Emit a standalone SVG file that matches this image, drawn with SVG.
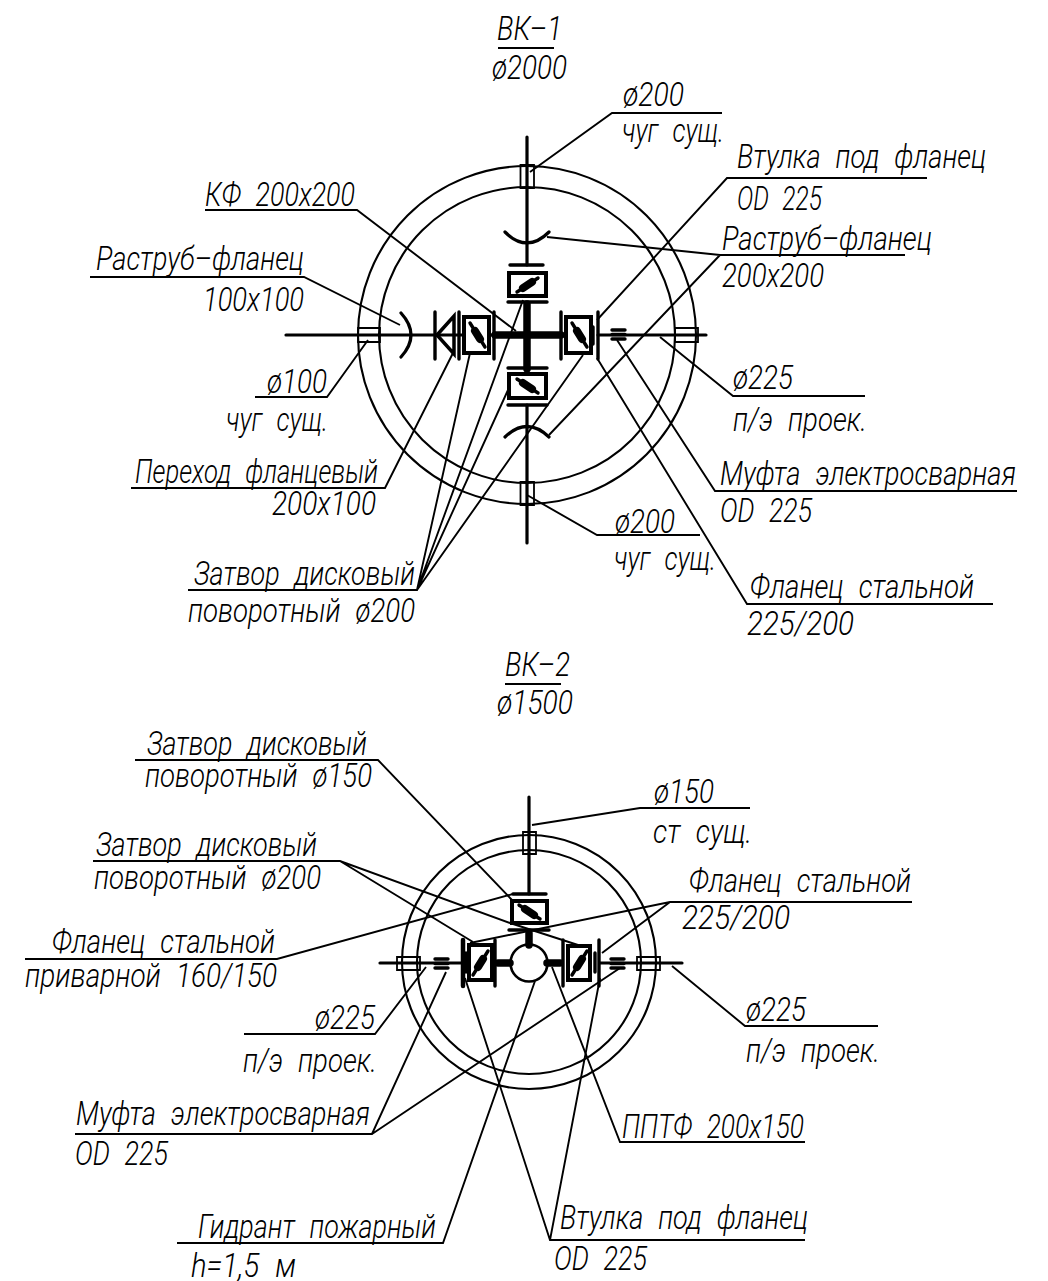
<svg xmlns="http://www.w3.org/2000/svg" width="1048" height="1281" viewBox="0 0 1048 1281">
<style>
.bg{fill:#fff}
text{font-family:"Roboto","Liberation Sans",sans-serif;font-style:italic;font-weight:300;font-size:33px;fill:#000;word-spacing:10px}
.l{fill:none;stroke:#000;stroke-width:1.9;stroke-linecap:butt}
.c{fill:none;stroke:#000;stroke-width:2.100}
.s{fill:none;stroke:#000;stroke-width:1.800}
.p{fill:none;stroke:#000;stroke-width:3.200;stroke-linecap:round}
.t{fill:none;stroke:#000;stroke-width:7.500;stroke-linecap:round}
.f{fill:none;stroke:#000;stroke-width:3.400;stroke-linecap:round}
.v{fill:#fff;stroke:#000;stroke-width:4}
.d{fill:none;stroke:#000;stroke-width:3.400;stroke-linecap:round}
.m{fill:none;stroke:#000;stroke-width:8;stroke-linecap:round}
</style>
<rect class="bg" width="1048" height="1281"/>

<g id="connectors">
<path class="l" d="M498 48H554"/>
<path class="l" d="M530 172L612 113H722"/>
<path class="l" d="M597 320L727 178H927"/>
<path class="l" d="M547 237L720 255H905M549 435L720 255"/>
<path class="l" d="M516 331L357 210H205"/>
<path class="l" d="M400 325L304 277H90"/>
<path class="l" d="M368 340L327 397H255"/>
<path class="l" d="M453 353L385 488H131"/>
<path class="l" d="M470 353L417 590H188M523 300L417 590M508 390L417 590M583 355L417 590"/>
<path class="l" d="M660 337L733 396H865"/>
<path class="l" d="M617 340L715 491H1017"/>
<path class="l" d="M597 358L747 604H993"/>
<path class="l" d="M527 495L597 535H700"/>
<path class="l" d="M505 684H561"/>
<path class="l" d="M512 900L378 760H135"/>
<path class="l" d="M510 923L340 861H93M578 945L510 923M473 942L340 861"/>
<path class="l" d="M513 894L277 959H25"/>
<path class="l" d="M470 943L670 902H912M602 953L670 902"/>
<path class="l" d="M426 967L375 1034H244"/>
<path class="l" d="M446 972L372 1134H75M620 968L372 1134"/>
<path class="l" d="M535 981L443 1243H177"/>
<path class="l" d="M552 967L620 1142H805"/>
<path class="l" d="M465 978L550 1240H805M600 978L550 1240"/>
<path class="l" d="M672 966L745 1026H878"/>
<path class="l" d="M532 825L640 808H750"/>
</g>

<g id="vk1-well">
<circle class="c" cx="527" cy="335" r="169"/>
<circle class="c" cx="527" cy="335" r="148"/>
<path class="p" d="M527 137V265M527 405V543M286 335H493M598 335H706"/>
<path class="s" d="M520.500 165H534V188H520.500ZM520.500 482H534V505H520.500ZM675 328H698V342H675ZM358 328H380V342H358Z"/>
<path class="p" d="M505 232Q527 254 549 232M505 437Q527 416 549 437M401 313Q421 335 401 357"/>
</g>
<g id="vk1-top-valve">
<path class="f" d="M510 265H543M508 302H547"/>
<rect class="v" x="509" y="273" width="37" height="23"/>
<path class="d" d="M517 292L538 278"/><path class="m" d="M523 288L532 282"/>
</g>
<g id="vk1-bottom-valve">
<path class="f" d="M508 368H547M508 405H547"/>
<rect class="v" x="509" y="374" width="37" height="24"/>
<path class="d" d="M517 379L538 393"/><path class="m" d="M523 383L532 389"/>
</g>
<g id="vk1-cross">
<path class="t" d="M527 304V369M495 335H561"/>
</g>
<g id="vk1-left-valve">
<path class="f" d="M459 312V359M494 312V359"/>
<rect class="v" x="464" y="317" width="25" height="36"/>
<path class="d" d="M470 323L485 347"/><path class="m" d="M475 331L480 339"/>
</g>
<g id="vk1-check-valve">
<path class="f" d="M435 312V359"/>
<path d="M437 335L454 316V354Z" fill="none" stroke="#000" stroke-width="3.500"/>
</g>
<g id="vk1-right-valve">
<path class="f" d="M561 312V359M598 312V359"/>
<rect class="v" x="566" y="317" width="25" height="36"/>
<path class="d" d="M572 323L587 347"/><path class="m" d="M577 331L582 339"/>
<path class="f" d="M593 327V344"/>
<path class="f" d="M612 330H625M612 339H625M612 334.500H625"/>
</g>

<g id="vk2-well">
<circle class="c" cx="529" cy="962" r="127"/>
<circle class="c" cx="529" cy="962" r="112"/>
<path class="p" d="M529 797V894M380 963H462M600 963H682"/>
<path class="s" d="M523 832H536V854H523ZM397 957H420V970H397ZM637 957H660V970H637Z"/>
</g>
<g id="vk2-top-valve">
<path class="f" d="M513 894H546M509 930H549"/>
<rect class="v" x="512" y="901" width="35" height="22"/>
<path class="d" d="M519 905L540 919"/><path class="m" d="M525 909L534 915"/>
</g>
<g id="vk2-hydrant">
<circle cx="529" cy="963" r="18.500" fill="#fff" stroke="#000" stroke-width="2.600"/>
<path class="t" d="M529 933V945M498 963H510M547 963H560"/>
</g>
<g id="vk2-left-valve">
<path class="f" d="M495 940V986"/>
<path d="M463 940V986" fill="none" stroke="#000" stroke-width="4.500" stroke-linecap="round"/>
<rect class="v" x="469" y="945" width="23" height="35"/>
<path class="d" d="M473 975L488 951"/><path class="m" d="M478 967L483 959"/>
<path class="f" d="M466 953V972"/>
<path class="f" d="M435 959H448M435 968H448M435 963.500H448"/>
</g>
<g id="vk2-right-valve">
<path class="f" d="M563 940V986M599 940V986"/>
<rect class="v" x="568" y="946" width="22" height="34"/>
<path class="d" d="M572 975L587 951"/><path class="m" d="M577 967L582 959"/>
<path class="f" d="M595 953V972"/>
<path class="f" d="M611 959H624M611 968H624M611 963.500H624"/>
</g>

<g id="labels">
<text x="497" y="40" textLength="65" lengthAdjust="spacingAndGlyphs">ВК–1</text>
<text x="492" y="79" textLength="75" lengthAdjust="spacingAndGlyphs">ø2000</text>
<text x="623" y="106" textLength="61" lengthAdjust="spacingAndGlyphs">ø200</text>
<text x="622" y="142" textLength="102" lengthAdjust="spacingAndGlyphs">чуг сущ.</text>
<text x="737" y="168" textLength="249" lengthAdjust="spacingAndGlyphs">Втулка под фланец</text>
<text x="737" y="210" textLength="85" lengthAdjust="spacingAndGlyphs">OD 225</text>
<text x="722" y="250" textLength="210" lengthAdjust="spacingAndGlyphs">Раструб–фланец</text>
<text x="722" y="287" textLength="102" lengthAdjust="spacingAndGlyphs">200x200</text>
<text x="205" y="206" textLength="150" lengthAdjust="spacingAndGlyphs">КФ 200x200</text>
<text x="96" y="270" textLength="208" lengthAdjust="spacingAndGlyphs">Раструб–фланец</text>
<text x="203" y="311" textLength="101" lengthAdjust="spacingAndGlyphs">100x100</text>
<text x="267" y="393" textLength="60" lengthAdjust="spacingAndGlyphs">ø100</text>
<text x="226" y="431" textLength="102" lengthAdjust="spacingAndGlyphs">чуг сущ.</text>
<text x="733" y="389" textLength="60" lengthAdjust="spacingAndGlyphs">ø225</text>
<text x="733" y="431" textLength="134" lengthAdjust="spacingAndGlyphs">п/э проек.</text>
<text x="135" y="483" textLength="243" lengthAdjust="spacingAndGlyphs">Переход фланцевый</text>
<text x="272" y="515" textLength="104" lengthAdjust="spacingAndGlyphs">200x100</text>
<text x="720" y="485" textLength="296" lengthAdjust="spacingAndGlyphs">Муфта электросварная</text>
<text x="720" y="522" textLength="92" lengthAdjust="spacingAndGlyphs">OD 225</text>
<text x="615" y="533" textLength="60" lengthAdjust="spacingAndGlyphs">ø200</text>
<text x="614" y="570" textLength="102" lengthAdjust="spacingAndGlyphs">чуг сущ.</text>
<text x="194" y="585" textLength="221" lengthAdjust="spacingAndGlyphs">Затвор дисковый</text>
<text x="188" y="622" textLength="227" lengthAdjust="spacingAndGlyphs">поворотный ø200</text>
<text x="750" y="598" textLength="224" lengthAdjust="spacingAndGlyphs">Фланец стальной</text>
<text x="747" y="635" textLength="107" lengthAdjust="spacingAndGlyphs">225/200</text>
<text x="505" y="676" textLength="65" lengthAdjust="spacingAndGlyphs">ВК–2</text>
<text x="497" y="714" textLength="76" lengthAdjust="spacingAndGlyphs">ø1500</text>
<text x="147" y="755" textLength="220" lengthAdjust="spacingAndGlyphs">Затвор дисковый</text>
<text x="145" y="787" textLength="227" lengthAdjust="spacingAndGlyphs">поворотный ø150</text>
<text x="654" y="803" textLength="60" lengthAdjust="spacingAndGlyphs">ø150</text>
<text x="653" y="843" textLength="99" lengthAdjust="spacingAndGlyphs">ст сущ.</text>
<text x="96" y="856" textLength="221" lengthAdjust="spacingAndGlyphs">Затвор дисковый</text>
<text x="94" y="889" textLength="227" lengthAdjust="spacingAndGlyphs">поворотный ø200</text>
<text x="689" y="892" textLength="222" lengthAdjust="spacingAndGlyphs">Фланец стальной</text>
<text x="682" y="929" textLength="108" lengthAdjust="spacingAndGlyphs">225/200</text>
<text x="52" y="953" textLength="223" lengthAdjust="spacingAndGlyphs">Фланец стальной</text>
<text x="25" y="987" textLength="252" lengthAdjust="spacingAndGlyphs">приварной 160/150</text>
<text x="315" y="1029" textLength="60" lengthAdjust="spacingAndGlyphs">ø225</text>
<text x="243" y="1072" textLength="134" lengthAdjust="spacingAndGlyphs">п/э проек.</text>
<text x="746" y="1021" textLength="60" lengthAdjust="spacingAndGlyphs">ø225</text>
<text x="746" y="1062" textLength="134" lengthAdjust="spacingAndGlyphs">п/э проек.</text>
<text x="76" y="1125" textLength="294" lengthAdjust="spacingAndGlyphs">Муфта электросварная</text>
<text x="75" y="1165" textLength="93" lengthAdjust="spacingAndGlyphs">OD 225</text>
<text x="622" y="1138" textLength="182" lengthAdjust="spacingAndGlyphs">ППТФ 200x150</text>
<text x="560" y="1229" textLength="248" lengthAdjust="spacingAndGlyphs">Втулка под фланец</text>
<text x="554" y="1270" textLength="93" lengthAdjust="spacingAndGlyphs">OD 225</text>
<text x="198" y="1238" textLength="238" lengthAdjust="spacingAndGlyphs">Гидрант пожарный</text>
<text x="191" y="1277" textLength="105" lengthAdjust="spacingAndGlyphs">h=1,5 м</text>
</g>
</svg>
